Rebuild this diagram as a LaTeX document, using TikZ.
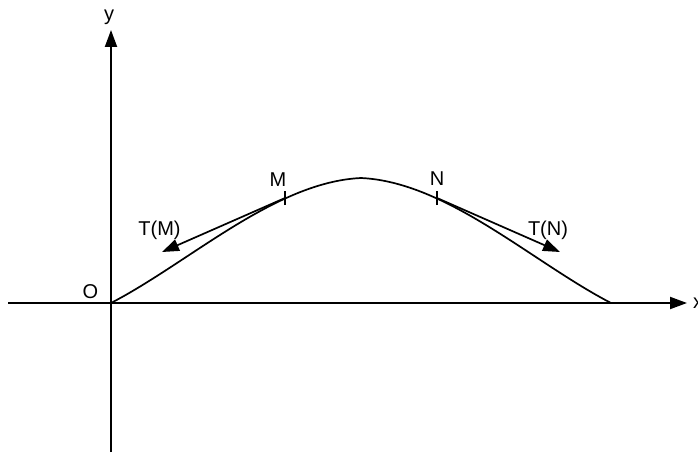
\documentclass[tikz,border=0pt]{standalone}
\usepackage{fontspec}
\setmainfont{Liberation Sans}
\usetikzlibrary{arrows.meta}
\begin{document}
\begin{tikzpicture}[x=1pt, y=-1pt,
  etiket/.style={font=\fontsize{20}{24}\selectfont, inner sep=0pt, anchor=base},
  eksen/.style={line width=2pt, -{Triangle[length=17pt, width=12pt]}},
  teget/.style={line width=1.7pt, -{Triangle[length=17pt, width=12pt]}}]
  \useasboundingbox (0,0) rectangle (698,452);
  % --- Eksenler ---
  \coordinate (O) at (111,303);
  \coordinate (xbas) at (8,303);
  \coordinate (xuc) at (687,303);
  \coordinate (ybas) at (111,452);
  \coordinate (yuc) at (111,30);
  \draw[eksen] (xbas) -- (xuc);
  \draw[eksen] (ybas) -- (yuc);

  % egri: O -> tepe -> B
  \coordinate (tepe) at (361,178);
  \coordinate (B) at (611,303);
  \draw[line width=1.7pt] (O) .. controls (190,262) and (275,182) .. (tepe)
    .. controls (447,182) and (532,262) .. (B);

  % M ve N noktalari, teget vektorler
  \coordinate (M) at (285,198);
  \coordinate (N) at (437,198);
  \coordinate (TM) at (162,252);
  \coordinate (TN) at (560,252);
  \draw[teget] (M) -- (TM);
  \draw[teget] (N) -- (TN);
  \foreach \p in {M,N}
    \draw[line width=1.3pt] ([yshift=-7pt]\p) -- ([yshift=7pt]\p);

  % etiketler
  \node[etiket] (lO) at (90.5,298) {O};
  \node[etiket] (ly) at (109,21) {y};
  \node[etiket, anchor=base west] (lx) at (693,308) {x};
  \node[etiket] (lM) at (278,186) {M};
  \node[etiket] (lN) at (437,185) {N};
  \node[etiket] (lTM) at (159.5,235.5) {T(M)};
  \node[etiket] (lTN) at (548,235.5) {T(N)};
\end{tikzpicture}
\end{document}
